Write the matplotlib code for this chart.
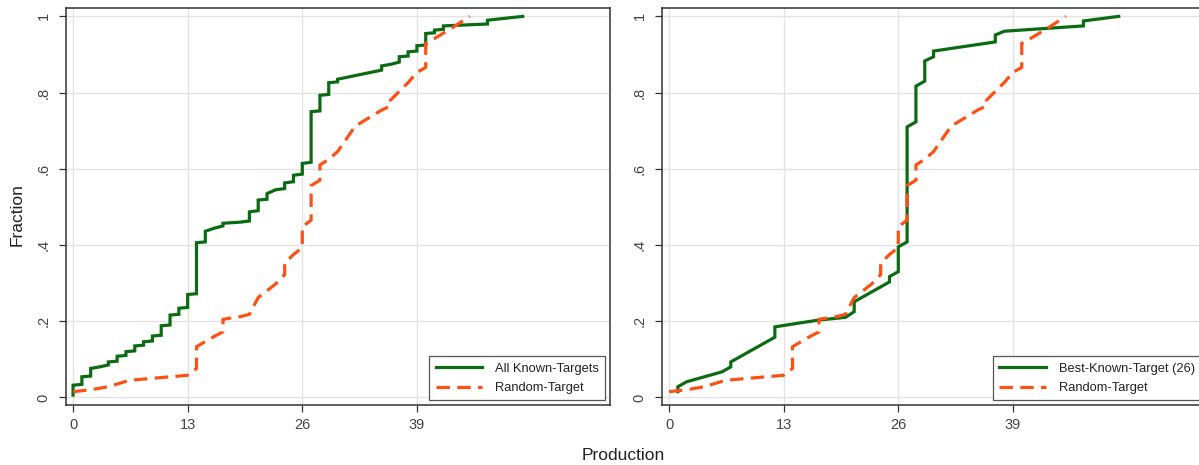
import matplotlib
matplotlib.use("Agg")
import matplotlib.pyplot as plt

# ---------------- data ----------------
# All Known-Targets (left panel), vertices of the cumulative line
known_x = [0, 0, 1, 1, 2, 2, 3, 4, 4, 5, 5, 6, 6, 7, 7, 8, 8, 9, 9, 10, 10,
           11, 11, 12, 12, 13, 13, 14, 14, 15, 15, 16, 17, 17, 19, 20, 20,
           21, 21, 22, 22, 23, 24, 24, 25, 25, 26, 26, 27, 27, 28, 28, 29, 29,
           30, 30, 35, 35, 36, 37, 37, 38, 38, 39, 39, 40, 40, 41, 41, 42, 42,
           47, 47, 51]
known_y = [0.006, 0.032, 0.034, 0.054, 0.056, 0.076, 0.080, 0.085, 0.093,
           0.095, 0.108, 0.110, 0.120, 0.122, 0.135, 0.137, 0.146, 0.148,
           0.161, 0.163, 0.188, 0.190, 0.216, 0.218, 0.234, 0.236, 0.270,
           0.272, 0.406, 0.408, 0.436, 0.444, 0.450, 0.457, 0.460, 0.463,
           0.487, 0.490, 0.518, 0.520, 0.535, 0.545, 0.548, 0.563, 0.566,
           0.583, 0.586, 0.614, 0.617, 0.750, 0.752, 0.793, 0.795, 0.826,
           0.828, 0.835, 0.859, 0.870, 0.874, 0.880, 0.894, 0.896, 0.907,
           0.909, 0.923, 0.925, 0.955, 0.957, 0.964, 0.966, 0.975, 0.980,
           0.990, 1.000]

# Best-Known-Target (26) (right panel)
best_x = [1, 1, 2, 6, 7, 7, 12, 12, 15, 17, 20, 21, 21, 25, 25, 26, 26, 27,
          27, 28, 28, 29, 29, 30, 30, 37, 37, 38, 47, 47, 51]
best_y = [0.015, 0.028, 0.041, 0.067, 0.080, 0.093, 0.158, 0.185, 0.196,
          0.203, 0.210, 0.225, 0.251, 0.303, 0.317, 0.330, 0.395, 0.408,
          0.710, 0.723, 0.817, 0.830, 0.883, 0.894, 0.909, 0.933, 0.951,
          0.961, 0.975, 0.988, 1.000]

# Random-Target (both panels)
rand_x = [0, 2, 4, 6, 7, 10, 13, 14, 14, 16, 17, 17, 19, 20, 21, 23, 24, 24,
          25, 26, 26, 27, 27, 28, 28, 29, 30, 32, 35, 36, 36, 38, 39, 40, 40,
          41, 43, 45]
rand_y = [0.015, 0.020, 0.028, 0.042, 0.046, 0.052, 0.058, 0.076, 0.133,
          0.160, 0.172, 0.205, 0.212, 0.218, 0.262, 0.298, 0.322, 0.352,
          0.375, 0.393, 0.448, 0.465, 0.556, 0.570, 0.610, 0.625, 0.645,
          0.712, 0.754, 0.765, 0.780, 0.826, 0.853, 0.866, 0.929, 0.942,
          0.970, 1.000]

x_ticks = [0, 13, 26, 39]
y_ticks = [0, 0.2, 0.4, 0.6, 0.8, 1.0]
y_tick_labels = ["0", ".2", ".4", ".6", ".8", "1"]

left_labels = ["All Known-Targets", "Random-Target"]
right_labels = ["Best-Known-Target (26)", "Random-Target"]

# ---------------- styling ----------------
plt.rcParams["font.family"] = ["Liberation Sans", "DejaVu Sans"]
GREEN = "#0b6b12"
ORANGE = "#ff5014"
W, H = 1199, 465
fig = plt.figure(figsize=(W / 100, H / 100), dpi=100)

ax_w = 544 / W
ax_h = 397 / H
bottom = 60 / H
axL = fig.add_axes([66 / W, bottom, ax_w, ax_h])
axR = fig.add_axes([662 / W, bottom, ax_w, ax_h])


def style(ax):
    ax.set_xlim(-0.8, 60.9)
    ax.set_ylim(-0.02, 1.022)
    ax.set_xticks(x_ticks)
    ax.set_yticks(y_ticks)
    ax.set_yticklabels(y_tick_labels, rotation=90, va="center")
    ax.grid(True, color="#e3e3e3", linewidth=1.0)
    ax.set_axisbelow(True)
    ax.tick_params(axis="both", direction="out", length=5, width=0.9,
                   colors="#333333", labelsize=10.5, labelcolor="#444444")
    ax.tick_params(axis="x", pad=4)
    ax.tick_params(axis="y", pad=6)
    for s in ax.spines.values():
        s.set_color("#333333")
        s.set_linewidth(1.1)


for ax, gx, gy, labs in [(axL, known_x, known_y, left_labels),
                         (axR, best_x, best_y, right_labels)]:
    style(ax)
    ax.plot(gx, gy, color=GREEN, linewidth=2.3, solid_joinstyle="miter",
            label=labs[0])
    ax.plot(rand_x, rand_y, color=ORANGE, linewidth=2.3,
            linestyle=(0, (4.2, 2.3)), label=labs[1])
    leg = ax.legend(loc="lower right", bbox_to_anchor=(1.0, 0.0),
                    borderaxespad=0.35, fontsize=9.3, handlelength=3.6,
                    handletextpad=1.0, fancybox=False, framealpha=1,
                    edgecolor="#555555", borderpad=0.5, labelspacing=0.55)
    leg.get_frame().set_linewidth(0.9)
    for t in leg.get_texts():
        t.set_color("#222222")

fig.text(17 / W, 1 - 215 / H, "Fraction", rotation=90, ha="center",
         va="center", fontsize=12.5, color="#222222")
fig.text(623 / W, 1 - 455 / H, "Production", ha="center", va="center",
         fontsize=12.5, color="#222222")

fig.savefig("out.png", dpi=100)
